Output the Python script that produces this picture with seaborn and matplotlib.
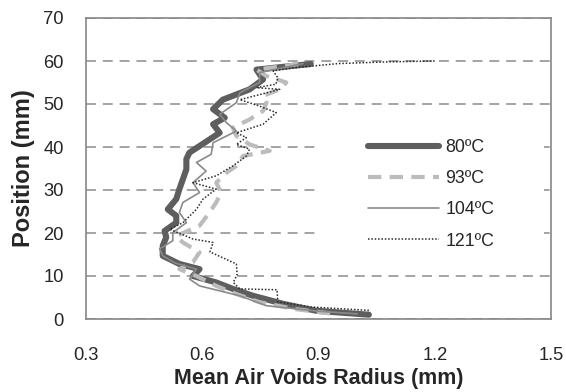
import numpy as np
import matplotlib
matplotlib.use('Agg')
import matplotlib.pyplot as plt
import seaborn as sns
from matplotlib.patches import Rectangle
from matplotlib.ticker import MultipleLocator

# values (position in mm, mean air voids radius in mm)
pos_80 = [1.0, 1.9, 3.5, 5.4, 7.0, 8.5, 10.0, 11.6, 12.8, 14.7, 17.0, 19.0, 20.5, 22.4, 24.0, 25.5,
          27.9, 30.2, 32.5, 34.8, 37.2, 38.7, 41.0, 43.3, 45.3, 46.8, 48.8, 51.0, 53.4, 55.7, 58.0, 59.3]
rad_80 = [1.03, 0.895, 0.81, 0.731, 0.679, 0.636, 0.576, 0.593, 0.541, 0.498, 0.498, 0.507, 0.503, 0.533,
          0.533, 0.511, 0.533, 0.541, 0.55, 0.559, 0.559, 0.567, 0.606, 0.645, 0.628, 0.658, 0.628, 0.653,
          0.722, 0.757, 0.74, 0.88]

pos_93 = [1.3, 2.3, 3.9, 5.8, 7.7, 10.0, 11.6, 13.2, 15.5, 17.8, 19.3, 21.7, 24.8, 27.1, 29.4, 31.7,
          34.0, 35.6, 37.9, 39.1, 40.6, 42.6, 44.5, 46.4, 48.4, 50.3, 51.9, 53.4, 55.0, 56.5, 58.0, 59.3]
rad_93 = [0.93, 0.84, 0.748, 0.688, 0.636, 0.585, 0.541, 0.576, 0.593, 0.55, 0.533, 0.593, 0.619, 0.636,
          0.649, 0.636, 0.662, 0.688, 0.705, 0.774, 0.722, 0.688, 0.679, 0.722, 0.757, 0.766, 0.757, 0.80,
          0.817, 0.766, 0.74, 0.85]

pos_104 = [1.2, 1.8, 3.1, 5.4, 7.7, 9.3, 11.6, 13.0, 14.7, 16.3, 18.2, 20.1, 22.4, 24.8, 27.1, 29.4,
           31.7, 34.4, 36.4, 38.3, 41.0, 43.7, 45.7, 47.6, 50.3, 52.6, 55.0, 57.3, 59.4]
rad_104 = [1.0, 0.90, 0.765, 0.697, 0.593, 0.567, 0.585, 0.53, 0.498, 0.49, 0.524, 0.524, 0.559, 0.541,
           0.55, 0.593, 0.576, 0.61, 0.585, 0.623, 0.628, 0.688, 0.662, 0.645, 0.688, 0.697, 0.748, 0.748,
           0.86]

pos_121 = [2.0, 2.8, 4.0, 6.8, 7.0, 8.5, 10.3, 12.8, 15.6, 17.8, 18.6, 20.9, 22.4, 25.5, 27.9, 30.2,
           31.7, 33.3, 35.6, 37.9, 39.5, 40.6, 42.2, 43.3, 45.3, 48.0, 49.5, 51.0, 52.6, 53.4, 53.8, 54.6,
           56.1, 57.7, 58.4, 59.4, 59.8, 60.0]
rad_121 = [1.03, 0.88, 0.795, 0.793, 0.697, 0.68, 0.69, 0.688, 0.62, 0.628, 0.576, 0.516, 0.55, 0.585,
           0.602, 0.636, 0.576, 0.636, 0.679, 0.714, 0.722, 0.688, 0.714, 0.688, 0.757, 0.791, 0.748, 0.697,
           0.766, 0.80, 0.74, 0.79, 0.795, 0.783, 0.834, 0.95, 1.08, 1.2]

labels = ['80ºC', '93ºC', '104ºC', '121ºC']

sns.set_style('white')
plt.rcParams['font.family'] = ['Liberation Sans', 'DejaVu Sans']

fig = plt.figure(figsize=(5.66, 3.92), dpi=100)
ax = fig.add_axes([86 / 566, 1 - 319 / 392, (551 - 86) / 566, (319 - 18) / 392])

styles = [
    dict(color='#5e5e5e', lw=4.4, ls='-'),
    dict(color='#bcbcbc', lw=3.0, ls=(0, (3.2, 2.0))),
    dict(color='#8a8a8a', lw=1.2, ls='-'),
    dict(color='#2b2b2b', lw=1.1, ls=(0, (1, 1.2))),
]
series = [(rad_80, pos_80), (rad_93, pos_93), (rad_104, pos_104), (rad_121, pos_121)]
for (rad, pos), lab, st in zip(series, labels, styles):
    sns.lineplot(x=rad, y=pos, sort=False, estimator=None, ax=ax, label=lab,
                 solid_capstyle='round', solid_joinstyle='round', dash_capstyle='butt', zorder=3, **st)

ax.set_xlim(0.3, 1.5)
ax.set_ylim(0, 70)
ax.set_xticks(np.arange(0.3, 1.51, 0.3))
ax.set_xticklabels(['0.3', '0.6', '0.9', '1.2', '1.5'])
ax.xaxis.set_minor_locator(MultipleLocator(0.1))
ax.set_yticks(np.arange(0, 71, 10))

ax.grid(axis='y', color='#8c8c8c', lw=1.1, ls=(0, (6.5, 4.5)))
ax.set_axisbelow(True)
for sp in ax.spines.values():
    sp.set_color('#868686')
    sp.set_linewidth(1.2)

ax.tick_params(axis='x', which='both', direction='in', length=4, width=1, color='#868686',
               pad=20, labelsize=13.2, top=False)
ax.tick_params(axis='y', direction='in', length=4, width=1, color='#868686', pad=16, labelsize=13.2,
               right=False)

# white box behind the legend hides part of the grid
ax.add_patch(Rectangle((0.499, 0.19), 0.486, 0.478, transform=ax.transAxes, facecolor='white',
                       edgecolor='none', zorder=1))
ax.legend(loc='upper left', bbox_to_anchor=(0.607, 0.598), frameon=False, fontsize=12.8, handlelength=4.0,
          handletextpad=0.35, labelspacing=0.8, borderpad=0, borderaxespad=0)

ax.set_xlabel('Mean Air Voids Radius (mm)', fontsize=15.5, fontweight='bold', labelpad=3)
ax.set_ylabel('Position (mm)', fontsize=17, fontweight='bold', labelpad=6)

fig.savefig('out.png', dpi=100)
